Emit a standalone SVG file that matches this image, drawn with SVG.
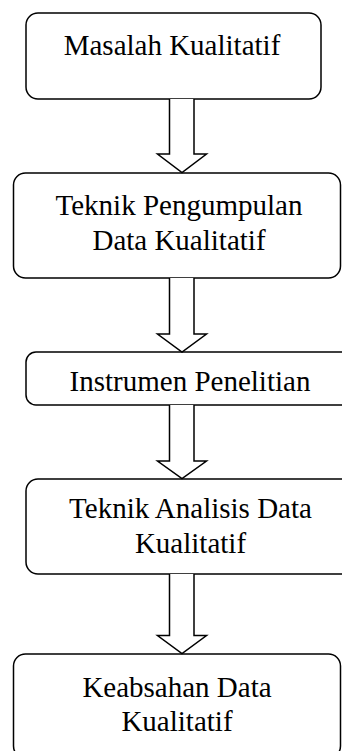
<svg xmlns="http://www.w3.org/2000/svg" width="342" height="751" viewBox="0 0 342 751">
<style>
.box{fill:#fff;stroke:#000;stroke-width:1.5}
.arr{fill:#fff;stroke:#000;stroke-width:1.5;stroke-linejoin:miter}
text{font-family:"Liberation Serif","Times New Roman",serif;font-size:29px;fill:#000;text-anchor:middle}
</style>
<rect width="342" height="751" fill="#fff"/>
<g id="node1">
<rect class="box" x="26" y="13" width="295" height="86" rx="12"/>
<text x="172" y="55">Masalah Kualitatif</text>
</g>
<g id="node2">
<rect class="box" x="13.5" y="173" width="327" height="105" rx="12"/>
<text x="179" y="215">Teknik Pengumpulan</text>
<text x="179" y="250">Data Kualitatif</text>
</g>
<g id="node3">
<rect class="box" x="26" y="352" width="330" height="53" rx="10"/>
<text x="190" y="391">Instrumen Penelitian</text>
</g>
<g id="node4">
<rect class="box" x="26" y="479" width="330" height="95" rx="12"/>
<text x="190.5" y="518">Teknik Analisis Data</text>
<text x="190.5" y="553">Kualitatif</text>
</g>
<g id="node5">
<rect class="box" x="13.5" y="654" width="327" height="104" rx="12"/>
<text x="177" y="697">Keabsahan Data</text>
<text x="177" y="731">Kualitatif</text>
</g>
<g id="connectors">
<path class="arr" d="M169.5,99 V154 H157.5 L182,172.5 L206.5,154 H194 V99"/>
<path class="arr" d="M169.5,278 V334 H157.5 L182,352 L206.5,334 H194 V278"/>
<path class="arr" d="M169.5,405 V461 H157.5 L182,478.5 L206.5,461 H194 V405"/>
<path class="arr" d="M169.5,574 V635.5 H157.5 L182,653.5 L206.5,635.5 H194 V574"/>
</g>
</svg>
